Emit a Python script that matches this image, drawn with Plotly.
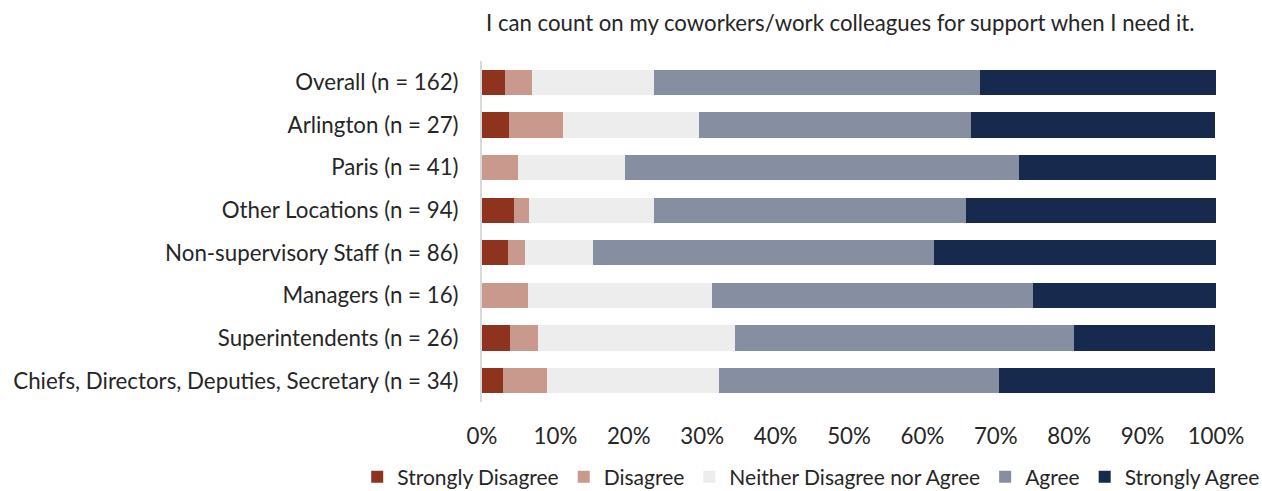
import plotly.graph_objects as go

# Survey groups, top to bottom
groups = [
    "Overall (n = 162)",
    "Arlington (n = 27)",
    "Paris (n = 41)",
    "Other Locations (n = 94)",
    "Non-supervisory Staff (n = 86)",
    "Managers (n = 16)",
    "Superintendents (n = 26)",
    "Chiefs, Directors, Deputies, Secretary (n = 34)",
]

# Response shares (%) per group
strongly_disagree = [3.1, 3.7, 0.0, 4.3, 3.5, 0.0, 3.8, 2.9]
disagree = [3.7, 7.4, 4.9, 2.1, 2.3, 6.3, 3.8, 5.9]
neither = [16.7, 18.5, 14.6, 17.0, 9.3, 25.0, 26.9, 23.5]
agree = [44.4, 37.0, 53.7, 42.6, 46.5, 43.8, 46.2, 38.2]
strongly_agree = [32.1, 33.3, 26.8, 34.0, 38.4, 25.0, 19.2, 29.4]

series = [
    ("Strongly Disagree", strongly_disagree, "#8E331D"),
    ("Disagree", disagree, "#C8998C"),
    ("Neither Disagree nor Agree", neither, "#EDEDED"),
    ("Agree", agree, "#858FA1"),
    ("Strongly Agree", strongly_agree, "#172A4D"),
]

tick_vals = [0, 10, 20, 30, 40, 50, 60, 70, 80, 90, 100]
tick_text = [f"{v}%" for v in tick_vals]

FONT = "Lato, Calibri, Carlito, sans-serif"
TEXT_COLOR = "#262626"

fig = go.Figure()
for name, vals, color in series:
    fig.add_trace(go.Bar(
        y=groups,
        x=vals,
        name=name,
        orientation="h",
        marker=dict(color=color, line=dict(width=0)),
        hoverinfo="x+y+name",
    ))

fig.update_layout(
    barmode="stack",
    bargap=0.41,
    width=1262,
    height=491,
    margin=dict(l=482, r=46, t=61, b=89, autoexpand=False),
    paper_bgcolor="white",
    plot_bgcolor="white",
    font=dict(family=FONT, size=22.3, color=TEXT_COLOR),
    showlegend=True,
    legend=dict(
        orientation="h",
        xref="paper",
        yref="paper",
        x=-0.17,
        xanchor="left",
        y=-0.16,
        yanchor="top",
        traceorder="normal",
        font=dict(size=21, color=TEXT_COLOR),
        itemsizing="constant",
        bgcolor="rgba(0,0,0,0)",
    ),
    annotations=[dict(
        text="I can count on my coworkers/work colleagues for support when I need it.",
        xref="paper",
        yref="paper",
        x=0.489,
        y=1.114,
        xanchor="center",
        yanchor="middle",
        showarrow=False,
        font=dict(size=22.2, color=TEXT_COLOR),
    )],
)

fig.update_xaxes(
    range=[0, 100],
    tickvals=tick_vals,
    ticktext=tick_text,
    showgrid=False,
    zeroline=False,
    showline=False,
    ticks="",
    ticklabelstandoff=19,
    fixedrange=True,
)
fig.update_yaxes(
    categoryorder="array",
    categoryarray=groups[::-1],
    autorange=True,
    showgrid=False,
    zeroline=False,
    showline=True,
    linecolor="#D9D9D9",
    linewidth=2,
    ticks="",
    ticklabelstandoff=17,
    fixedrange=True,
)

fig.write_html("out.html")
